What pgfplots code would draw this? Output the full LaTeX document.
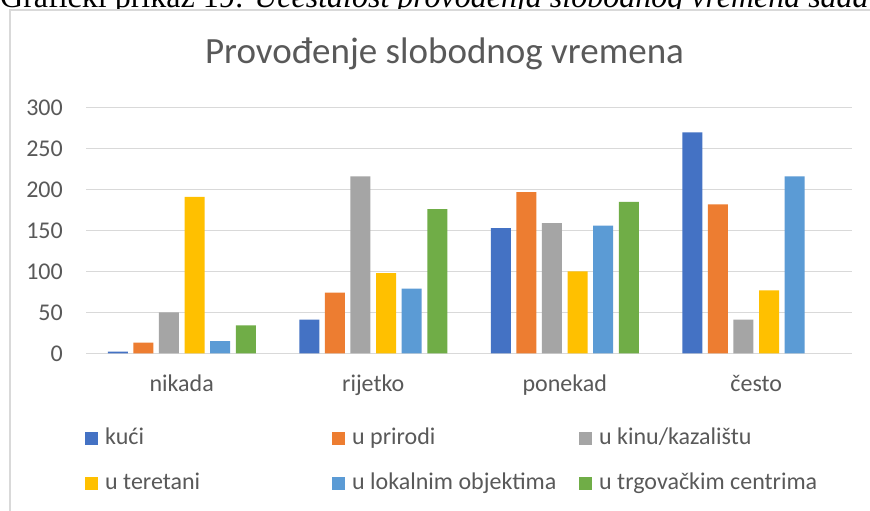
\documentclass[border=0pt]{standalone}
\usepackage{pgfplots}
\pgfplotsset{compat=1.18}
\usepackage{fontspec}
\setmainfont{Carlito}
\newfontfamily\capfont{Liberation Serif}
\definecolor{c1}{HTML}{4472C4}
\definecolor{c2}{HTML}{ED7D31}
\definecolor{c3}{HTML}{A5A5A5}
\definecolor{c4}{HTML}{FFC000}
\definecolor{c5}{HTML}{5B9BD5}
\definecolor{c6}{HTML}{70AD47}
\definecolor{txt}{HTML}{595959}
\definecolor{gridc}{HTML}{D9D9D9}
\begin{document}
\begin{tikzpicture}
\useasboundingbox (0pt,0pt) rectangle (870pt,511pt);
\clip (0pt,0pt) rectangle (870pt,511pt);
\node[anchor=base west, inner sep=0pt, font=\capfont\fontsize{32}{38}\selectfont] at (0pt,503pt) {Grafički prikaz 19: \textit{Učestalost provođenja slobodnog vremena sada}};
\fill[white] (10pt,-20pt) rectangle (900pt,501pt);
\draw[gridc, line width=1.3pt] (10pt,-20pt) rectangle (900pt,501pt);
\node[anchor=base, inner sep=0pt, font=\fontsize{37}{44}\selectfont, text=txt] at (444.5pt,447pt) {Provođenje slobodnog vremena};
\begin{axis}[
 at={(86pt,157.7pt)}, anchor=south west,
 scale only axis, width=766pt, height=245.6pt,
 xmin=-0.5, xmax=3.5, ymin=0, ymax=300,
 ytick={0,50,...,300},
 xtick={0,1,2,3}, xticklabels={nikada,rijetko,ponekad,često},
 ybar=5.6pt, bar width=20pt,
 axis line style={draw=none},
 major tick length=0pt,
 ymajorgrids, grid style={gridc, line width=1.3pt},
 tick label style={font=\fontsize{24}{29}\selectfont, text=txt},
 /pgf/number format/assume math mode=true,
 yticklabel style={anchor=east, inner sep=0pt, xshift=-23pt},
 xticklabel style={anchor=base, yshift=-38.7pt},
 legend columns=3,
 legend style={draw=none, fill=none, at={(axis description cs:-0.0013,-0.300)}, anchor=north west,
   font=\fontsize{24}{29}\selectfont, text=txt, inner sep=0pt, row sep=23pt,
   nodes={inner sep=0pt, text height=17pt, text depth=5pt}},
 legend image code/.code={\fill[#1] (0pt,-6.5pt) rectangle (13pt,6.5pt);},
 /tikz/every odd column/.append style={column sep=7pt},
]
\addplot[fill=c1, draw=none] coordinates {(0,2) (1,41) (2,153) (3,270)};
\addplot[fill=c2, draw=none] coordinates {(0,13) (1,74) (2,197) (3,182)};
\addplot[fill=c3, draw=none] coordinates {(0,50) (1,216) (2,159) (3,41)};
\addplot[fill=c4, draw=none] coordinates {(0,191) (1,98) (2,100) (3,77)};
\addplot[fill=c5, draw=none] coordinates {(0,15) (1,79) (2,156) (3,216)};
\addplot[fill=c6, draw=none] coordinates {(0,34) (1,176) (2,185)};
\addlegendentry{\makebox[227pt][l]{kući}}
\addlegendentry{\makebox[227pt][l]{u prirodi}}
\addlegendentry{\makebox[227pt][l]{u kinu/kazalištu}}
\addlegendentry{\makebox[227pt][l]{u teretani}}
\addlegendentry{\makebox[227pt][l]{u lokalnim objektima}}
\addlegendentry{\makebox[227pt][l]{u trgovačkim centrima}}
\end{axis}
\end{tikzpicture}
\end{document}
